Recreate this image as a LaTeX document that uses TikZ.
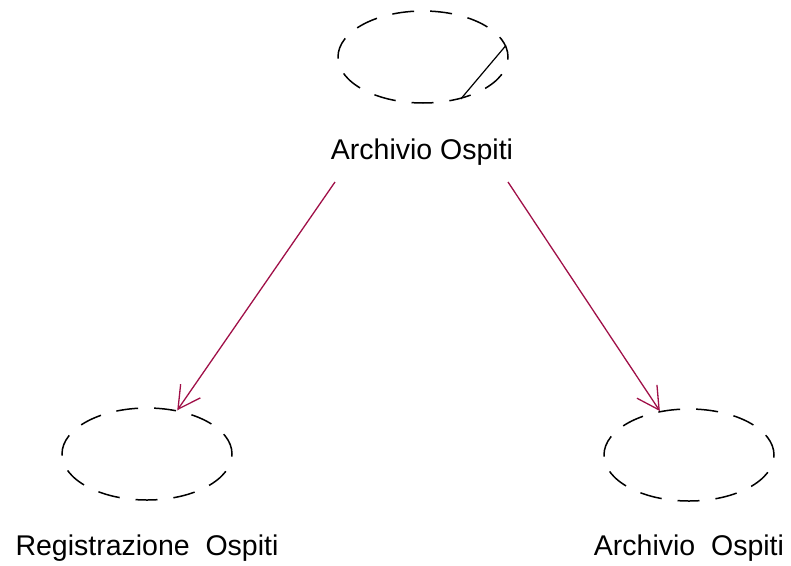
\documentclass[tikz,border=0pt]{standalone}
\usepackage{fontspec}
\setmainfont{Liberation Sans}
\usepackage{xcolor}
\usetikzlibrary{arrows.meta,shapes.geometric}
\definecolor{linkred}{RGB}{160,16,72}

\begin{document}
\begin{tikzpicture}[x=1pt,y=-1pt,
	usecase/.style={draw,ellipse,dash pattern=on 22pt off 16pt,line width=1.5pt,minimum width=170pt,minimum height=92pt,inner sep=0pt},
	lbl/.style={font=\fontsize{28.5}{34}\selectfont,inner sep=0pt},
	link/.style={draw=linkred,line width=1.3pt,-{Straight Barb[length=22pt,width=24pt,line width=1.3pt]}}]
		\useasboundingbox (0,0) rectangle (791,565);
		\node[usecase] (archTop) at (423,57) {};
		\draw[line width=1.2pt] (archTop.8) -- (archTop.-48);
		\node[lbl] (archTopLbl) at (422,152) {Archivio Ospiti};
		\node[usecase] (regE) at (147,454) {};
		\node[lbl] (regLbl) at (147,548) {Registrazione\ \ Ospiti};
		\node[usecase] (archE) at (689,455) {};
		\node[lbl] (archLbl) at (689,548) {Archivio\ \ Ospiti};
		\coordinate (outL) at (335,182);
		\coordinate (outR) at (508,182);
		\draw[link] (outL) -- (regE);
		\draw[link] (outR) -- (archE);
	\end{tikzpicture}
\end{document}
